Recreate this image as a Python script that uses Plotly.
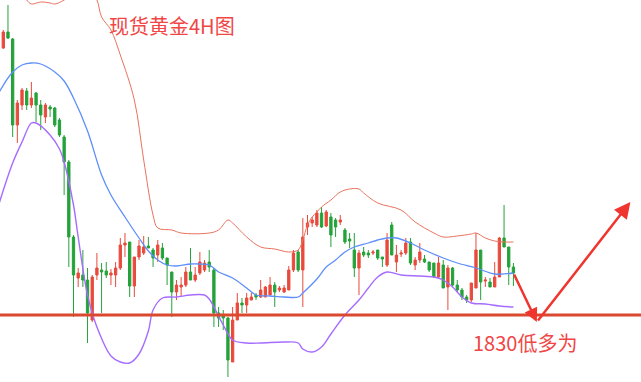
import plotly.graph_objects as go

# ---- Candles (spot gold, 4H) ----
OPEN = [2097, 2113, 2106, 2020, 2040, 2054, 2040, 2052, 2040, 2028,
        2038, 2037, 2025, 2008, 1983, 1908, 1867, 1870, 1865, 1825,
        1870, 1875, 1874, 1870, 1870, 1877, 1900, 1903, 1859, 1888,
        1892, 1899, 1895, 1890, 1897, 1887, 1873, 1853, 1858, 1860,
        1873, 1865, 1872, 1875, 1883, 1875, 1832, 1830, 1827, 1783,
        1825, 1842, 1840, 1845, 1850, 1848, 1848, 1850, 1860, 1855,
        1853, 1855, 1875, 1893, 1875, 1918, 1922, 1920, 1932, 1919,
        1928, 1925, 1923, 1915, 1906, 1895, 1877, 1893, 1892, 1892,
        1895, 1888, 1880, 1920, 1883, 1891, 1892, 1903, 1880, 1885,
        1886, 1883, 1882, 1868, 1880, 1858, 1877, 1860, 1855, 1848,
        1845, 1857, 1895, 1864, 1863, 1858, 1868, 1907, 1898, 1878]
HIGH = [2115, 2140, 2107, 2045, 2057, 2057, 2063, 2053, 2045, 2042,
        2040, 2038, 2027, 2010, 1985, 1910, 1877, 1895, 1877, 1870,
        1892, 1882, 1883, 1876, 1883, 1907, 1912, 1903, 1888, 1905,
        1909, 1908, 1897, 1905, 1902, 1887, 1873, 1865, 1868, 1878,
        1897, 1878, 1893, 1885, 1895, 1877, 1838, 1835, 1828, 1838,
        1852, 1847, 1852, 1852, 1852, 1865, 1859, 1868, 1863, 1859,
        1860, 1879, 1895, 1895, 1927, 1930, 1928, 1935, 1938, 1935,
        1932, 1927, 1930, 1917, 1912, 1912, 1895, 1898, 1895, 1895,
        1895, 1888, 1912, 1923, 1900, 1895, 1907, 1907, 1888, 1902,
        1890, 1883, 1882, 1888, 1885, 1880, 1878, 1865, 1857, 1850,
        1862, 1912, 1895, 1868, 1867, 1883, 1908, 1940, 1898, 1882]
LOW = [2096, 2106, 2008, 2002, 2035, 2035, 2037, 2023, 2015, 2022,
       2028, 2018, 2008, 1950, 1878, 1828, 1858, 1858, 1802, 1823,
       1865, 1832, 1867, 1860, 1858, 1875, 1888, 1848, 1848, 1885,
       1890, 1897, 1878, 1883, 1885, 1860, 1828, 1845, 1848, 1858,
       1865, 1863, 1870, 1873, 1873, 1818, 1818, 1815, 1768, 1783,
       1825, 1832, 1832, 1845, 1845, 1847, 1848, 1850, 1838, 1853,
       1852, 1855, 1873, 1873, 1838, 1910, 1918, 1918, 1917, 1918,
       1898, 1908, 1920, 1901, 1897, 1868, 1850, 1888, 1887, 1890,
       1885, 1878, 1878, 1890, 1873, 1888, 1890, 1880, 1875, 1882,
       1882, 1873, 1867, 1867, 1857, 1835, 1858, 1853, 1845, 1842,
       1843, 1857, 1845, 1858, 1858, 1858, 1868, 1898, 1860, 1859]
CLOSE = [2113, 2107, 2020, 2042, 2055, 2040, 2047, 2040, 2030, 2040,
         2036, 2020, 2010, 1983, 1908, 1870, 1872, 1865, 1832, 1868,
         1877, 1873, 1870, 1872, 1877, 1900, 1902, 1859, 1888, 1899,
         1898, 1897, 1887, 1900, 1887, 1880, 1853, 1860, 1860, 1873,
         1865, 1870, 1883, 1882, 1878, 1832, 1827, 1827, 1785, 1825,
         1842, 1840, 1847, 1848, 1848, 1855, 1858, 1860, 1853, 1857,
         1857, 1875, 1892, 1875, 1908, 1922, 1925, 1932, 1918, 1933,
         1910, 1918, 1925, 1903, 1904, 1877, 1892, 1890, 1890, 1893,
         1887, 1886, 1905, 1890, 1890, 1892, 1902, 1882, 1885, 1893,
         1883, 1875, 1868, 1882, 1857, 1877, 1860, 1855, 1848, 1845,
         1862, 1895, 1863, 1865, 1858, 1868, 1907, 1898, 1878, 1872]
BARS = list(range(len(OPEN)))

# ---- Bollinger bands (sampled at bar indices) ----
UPPER_X = [-1, 3, 5, 6, 8, 10, 11, 13, 16, 19, 20, 21, 23, 25, 28, 30, 32, 33,
           36, 38, 44, 46, 48, 49, 52, 55, 58, 61, 63, 64, 65, 66, 67, 68, 70,
           72, 74, 76, 77, 80, 85, 88, 92, 94, 97, 100, 101, 103, 105, 107, 109]
UPPER_Y = [2165, 2160, 2145, 2141, 2143, 2142, 2141, 2145, 2155, 2150, 2145,
           2128, 2115, 2090, 2045, 1985, 1930, 1917, 1915, 1912, 1912, 1915,
           1925, 1922, 1908, 1898, 1896, 1893, 1895, 1905, 1920, 1928, 1933,
           1938, 1945, 1953, 1956, 1956, 1952, 1942, 1935, 1923, 1912, 1908,
           1909, 1911, 1912, 1907, 1904, 1903, 1903]
MID_X = [-1, 2, 4, 6, 8, 11, 13, 15, 18, 21, 23, 26, 29, 31, 33, 35, 37, 40,
         42, 44, 46, 49, 52, 54, 57, 60, 63, 64, 67, 69, 71, 73, 75, 78, 80,
         82, 84, 87, 90, 94, 97, 101, 105, 109]
MID_Y = [2052, 2073, 2080, 2082, 2081, 2073, 2064, 2047, 2014, 1970, 1950,
         1928, 1907, 1894, 1885, 1880, 1879, 1881, 1881, 1880, 1873, 1867,
         1857, 1850, 1849, 1848, 1848, 1852, 1866, 1878, 1885, 1893, 1898,
         1902, 1905, 1907, 1907, 1902, 1895, 1887, 1882, 1877, 1871, 1872]
LOWER_X = [-1, 2, 4, 6, 7, 10, 12, 13, 15, 16, 18, 20, 23, 25, 27, 29, 31, 32,
           34, 37, 40, 43, 44, 47, 49, 52, 55, 60, 63, 64, 66, 68, 70, 73, 76,
           78, 80, 82, 85, 89, 92, 94, 96, 98, 100, 103, 106, 109]
LOWER_Y = [1940, 1982, 2003, 2022, 2022, 2010, 1996, 1983, 1940, 1908, 1850,
           1818, 1789, 1783, 1782, 1791, 1814, 1835, 1847, 1848, 1850, 1850,
           1846, 1820, 1805, 1802, 1802, 1803, 1802, 1796, 1793, 1798, 1811,
           1830, 1845, 1857, 1868, 1873, 1870, 1869, 1868, 1865, 1858, 1848,
           1842, 1841, 1839, 1838]

SUPPORT = 1830
PATH_X = [109, 114, 134]      # projected move: dip to support, then rally
PATH_Y = [1872, 1823, 1943]
TITLE = "现货黄金4H图"
NOTE = "1830低多为"

RED = "#e84a3c"
GREEN = "#24a23a"
TXT = "#f04646"
FONT = "Noto Sans CJK SC"

fig = go.Figure()
fig.add_trace(go.Scatter(x=UPPER_X, y=UPPER_Y, mode="lines",
                         line=dict(color="#e8735f", width=1, shape="spline"),
                         hoverinfo="skip", showlegend=False))
fig.add_trace(go.Scatter(x=MID_X, y=MID_Y, mode="lines",
                         line=dict(color="#5e8ffa", width=1.3, shape="spline"),
                         hoverinfo="skip", showlegend=False))
fig.add_trace(go.Scatter(x=LOWER_X, y=LOWER_Y, mode="lines",
                         line=dict(color="#a66cff", width=1.4, shape="spline"),
                         hoverinfo="skip", showlegend=False))
fig.add_trace(go.Candlestick(
    x=BARS, open=OPEN, high=HIGH, low=LOW, close=CLOSE,
    increasing=dict(line=dict(color=RED, width=1), fillcolor=RED),
    decreasing=dict(line=dict(color=GREEN, width=1), fillcolor=GREEN),
    whiskerwidth=0, showlegend=False))

fig.add_hline(y=SUPPORT, line=dict(color="#d9482f", width=3), layer="above")

fig.add_annotation(x=PATH_X[1], y=PATH_Y[1], ax=PATH_X[0], ay=PATH_Y[0],
                   xref="x", yref="y", axref="x", ayref="y", text="",
                   showarrow=True, arrowhead=2, arrowsize=1.1, arrowwidth=2.5,
                   arrowcolor="#f0352f")
fig.add_annotation(x=PATH_X[2], y=PATH_Y[2], ax=PATH_X[1], ay=PATH_Y[1],
                   xref="x", yref="y", axref="x", ayref="y", text="",
                   showarrow=True, arrowhead=2, arrowsize=1.3, arrowwidth=2.5,
                   arrowcolor="#f0352f")

fig.add_annotation(x=0.268, y=0.932, xref="paper", yref="paper", text=TITLE,
                   xanchor="center", yanchor="middle",
                   showarrow=False, font=dict(family=FONT, size=20, color=TXT))
fig.add_annotation(x=0.819, y=0.103, xref="paper", yref="paper", text=NOTE,
                   xanchor="center", yanchor="middle",
                   showarrow=False, font=dict(family=FONT, size=20, color=TXT))

fig.update_layout(
    width=641, height=382, margin=dict(l=0, r=0, t=0, b=0, autoexpand=False),
    paper_bgcolor="white", plot_bgcolor="white",
    xaxis=dict(visible=False, range=[-0.705, 136.26], rangeslider=dict(visible=False)),
    yaxis=dict(visible=False, range=[1763, 2145]),
)

fig.write_html("out.html", config={"displayModeBar": False},
               post_script="document.body.style.margin='0';document.body.style.padding='0';")
